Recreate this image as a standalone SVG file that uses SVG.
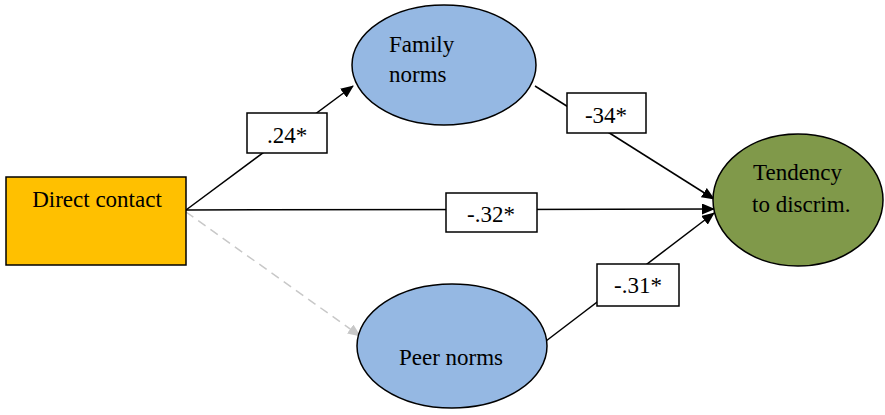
<svg xmlns="http://www.w3.org/2000/svg" width="885" height="415" viewBox="0 0 885 415">
<defs>
<marker id="ah" markerWidth="13" markerHeight="11" refX="12" refY="5.5" orient="auto" markerUnits="userSpaceOnUse" viewBox="0 0 13 11">
<path d="M0,0 L13,5.5 L0,11 z" fill="#000"/>
</marker>
<marker id="ahg" markerWidth="13" markerHeight="11" refX="12" refY="5.5" orient="auto" markerUnits="userSpaceOnUse" viewBox="0 0 13 11">
<path d="M0,0 L13,5.5 L0,11 z" fill="#c8c8c8"/>
</marker>
<style>
text{font-family:"Liberation Serif","Times New Roman",serif;font-size:23px;fill:#000}
.node{stroke:#000;stroke-width:1.5}
.lbl{fill:#fff;stroke:#000;stroke-width:1.5}
.c{fill:none;stroke:#000;stroke-width:1.5}
</style>
</defs>
<rect width="885" height="415" fill="#fff"/>
<g id="connectors">
<line class="c" x1="186" y1="210" x2="353" y2="86" marker-end="url(#ah)"/>
<line class="c" x1="535" y1="86" x2="714" y2="199" marker-end="url(#ah)"/>
<line class="c" x1="186" y1="210" x2="714" y2="209" marker-end="url(#ah)"/>
<line class="c" x1="546" y1="341" x2="714" y2="213" marker-end="url(#ah)"/>
<line x1="186" y1="212" x2="360" y2="336" stroke="#c8c8c8" stroke-width="1.5" stroke-dasharray="9,6" marker-end="url(#ahg)"/>
<g id="label-24"><rect class="lbl" x="247" y="113" width="80" height="40"/><text x="287" y="143" text-anchor="middle">.24*</text></g>
<g id="label-34"><rect class="lbl" x="567" y="93" width="79" height="40"/><text x="606" y="123" text-anchor="middle">-34*</text></g>
<g id="label-32"><rect class="lbl" x="446" y="193" width="91" height="39"/><text x="491" y="222" text-anchor="middle">-.32*</text></g>
<g id="label-31"><rect class="lbl" x="597" y="264" width="82" height="42"/><text x="638" y="293" text-anchor="middle">-.31*</text></g>
</g>
<g id="direct-contact">
<rect class="node" x="6" y="177" width="180" height="88" fill="#FFC000"/>
<text x="97" y="207" text-anchor="middle">Direct contact</text>
</g>
<g id="family-norms">
<ellipse class="node" cx="444" cy="65" rx="92" ry="60" fill="#95B8E3"/>
<text x="389" y="52">Family</text>
<text x="389" y="82">norms</text>
</g>
<g id="peer-norms">
<ellipse class="node" cx="452" cy="346" rx="95" ry="62" fill="#95B8E3"/>
<text x="451" y="365" text-anchor="middle">Peer norms</text>
</g>
<g id="tendency">
<ellipse class="node" cx="798" cy="200" rx="85" ry="66" fill="#80994A"/>
<text x="753" y="180">Tendency</text>
<text x="752" y="212">to discrim.</text>
</g>
</svg>
